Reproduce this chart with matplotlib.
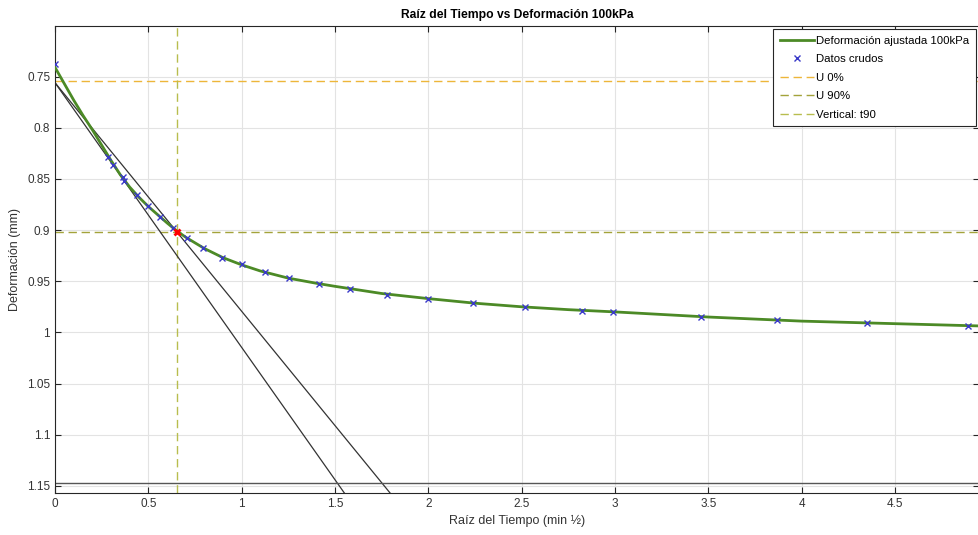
import numpy as np
import matplotlib.pyplot as plt
from matplotlib.ticker import FormatStrFormatter

plt.rcParams['font.family'] = ['Liberation Sans', 'DejaVu Sans']

# raw data (sqrt of time in min, deformation in mm)
raiz_t = [0, 0.286, 0.312, 0.366, 0.371, 0.441, 0.496, 0.562, 0.630, 0.707,
          0.795, 0.893, 1.0, 1.125, 1.255, 1.414, 1.58, 1.777, 2.0, 2.237,
          2.517, 2.824, 2.99, 3.46, 3.87, 4.35, 4.89]
deform = [0.7376, 0.829, 0.836, 0.848, 0.852, 0.8655, 0.876, 0.887, 0.898, 0.908,
          0.918, 0.927, 0.9336, 0.941, 0.947, 0.9527, 0.9573, 0.9632, 0.9678, 0.9717,
          0.9752, 0.9795, 0.980, 0.985, 0.988, 0.9908, 0.9935]

# fitted curve
x_ajuste = [0, 0.05, 0.1, 0.15, 0.2, 0.25, 0.3, 0.35, 0.4, 0.45, 0.5, 0.55, 0.6,
            0.65, 0.7, 0.8, 0.9, 1.0, 1.1, 1.25, 1.4, 1.5, 1.75, 2.0, 2.25,
            2.5, 2.75, 3.0, 3.5, 4.0, 4.5, 4.95]
y_ajuste = [0.741, 0.757, 0.773, 0.788, 0.802, 0.817, 0.832, 0.846, 0.858, 0.868,
            0.877, 0.885, 0.893, 0.9005, 0.907, 0.918, 0.927, 0.934, 0.940, 0.947,
            0.952, 0.955, 0.962, 0.967, 0.9715, 0.975, 0.9778, 0.980, 0.985, 0.989,
            0.9915, 0.9937]

u0 = 0.7545
u90 = 0.9015
t90 = 0.652
linea_base = 1.147

# tangent lines: intercept and x where they hit y = 1.157
tang_y0 = 0.756
tang1_x = [0, 1.55]
tang2_x = [0, 1.795]
tang_ybot = 1.157

fig = plt.figure(figsize=(9.79, 5.35), dpi=100)
ax = fig.add_axes([0.0562, 0.0785, 0.9438, 0.873])

dash = (0, (6, 3.4))
ax.plot(x_ajuste, y_ajuste, color='#4C8A26', lw=2, label='Deformación ajustada 100kPa', zorder=3)
ax.plot(raiz_t, deform, 'x', color='#3a3ac8', ms=4.5, mew=1, label='Datos crudos', zorder=4)
ax.axhline(u0, color='#EDB63A', ls=dash, lw=1, label='U 0%')
ax.axhline(u90, color='#A3A33A', ls=dash, lw=1, label='U 90%')
ax.axvline(t90, color='#B8BD4E', ls=dash, lw=1, label='Vertical: t90')
ax.plot(tang1_x, [tang_y0, tang_ybot], color='#333333', lw=0.9)
ax.plot(tang2_x, [tang_y0, tang_ybot], color='#333333', lw=0.9)
ax.axhline(linea_base, color='#555555', lw=1)
ax.plot([t90], [u90], 'x', color='red', ms=5, mew=2, zorder=5)

ax.set_xlim(0, 4.95)
ax.set_ylim(1.157, 0.7005)
ax.set_xticks(np.arange(0, 4.6, 0.5))
ax.set_yticks(np.arange(0.75, 1.151, 0.05))
ax.xaxis.set_major_formatter(FormatStrFormatter('%g'))
ax.yaxis.set_major_formatter(FormatStrFormatter('%g'))
ax.tick_params(direction='in', top=True, right=True, length=4, width=0.8,
               labelsize=8.5, colors='#262626', labelcolor='#333333')
ax.grid(True, color='#e3e3e3', lw=0.8)
ax.set_axisbelow(True)
for s in ax.spines.values():
    s.set_color('#262626')
    s.set_linewidth(0.8)

ax.set_title('Raíz del Tiempo vs Deformación 100kPa', fontsize=8.7, fontweight='bold', pad=6)
ax.set_xlabel('Raíz del Tiempo (min ½)', fontsize=9, color='#333333')
ax.set_ylabel('Deformación (mm)', fontsize=9, color='#333333', labelpad=4)

leg = ax.legend(loc='upper right', fontsize=8.2, fancybox=False, framealpha=1,
                edgecolor='#262626', handlelength=3.0, borderaxespad=0.3,
                labelspacing=0.75, handletextpad=0.2, borderpad=0.55)
leg.get_frame().set_linewidth(0.8)

fig.savefig('out.png', dpi=100)
